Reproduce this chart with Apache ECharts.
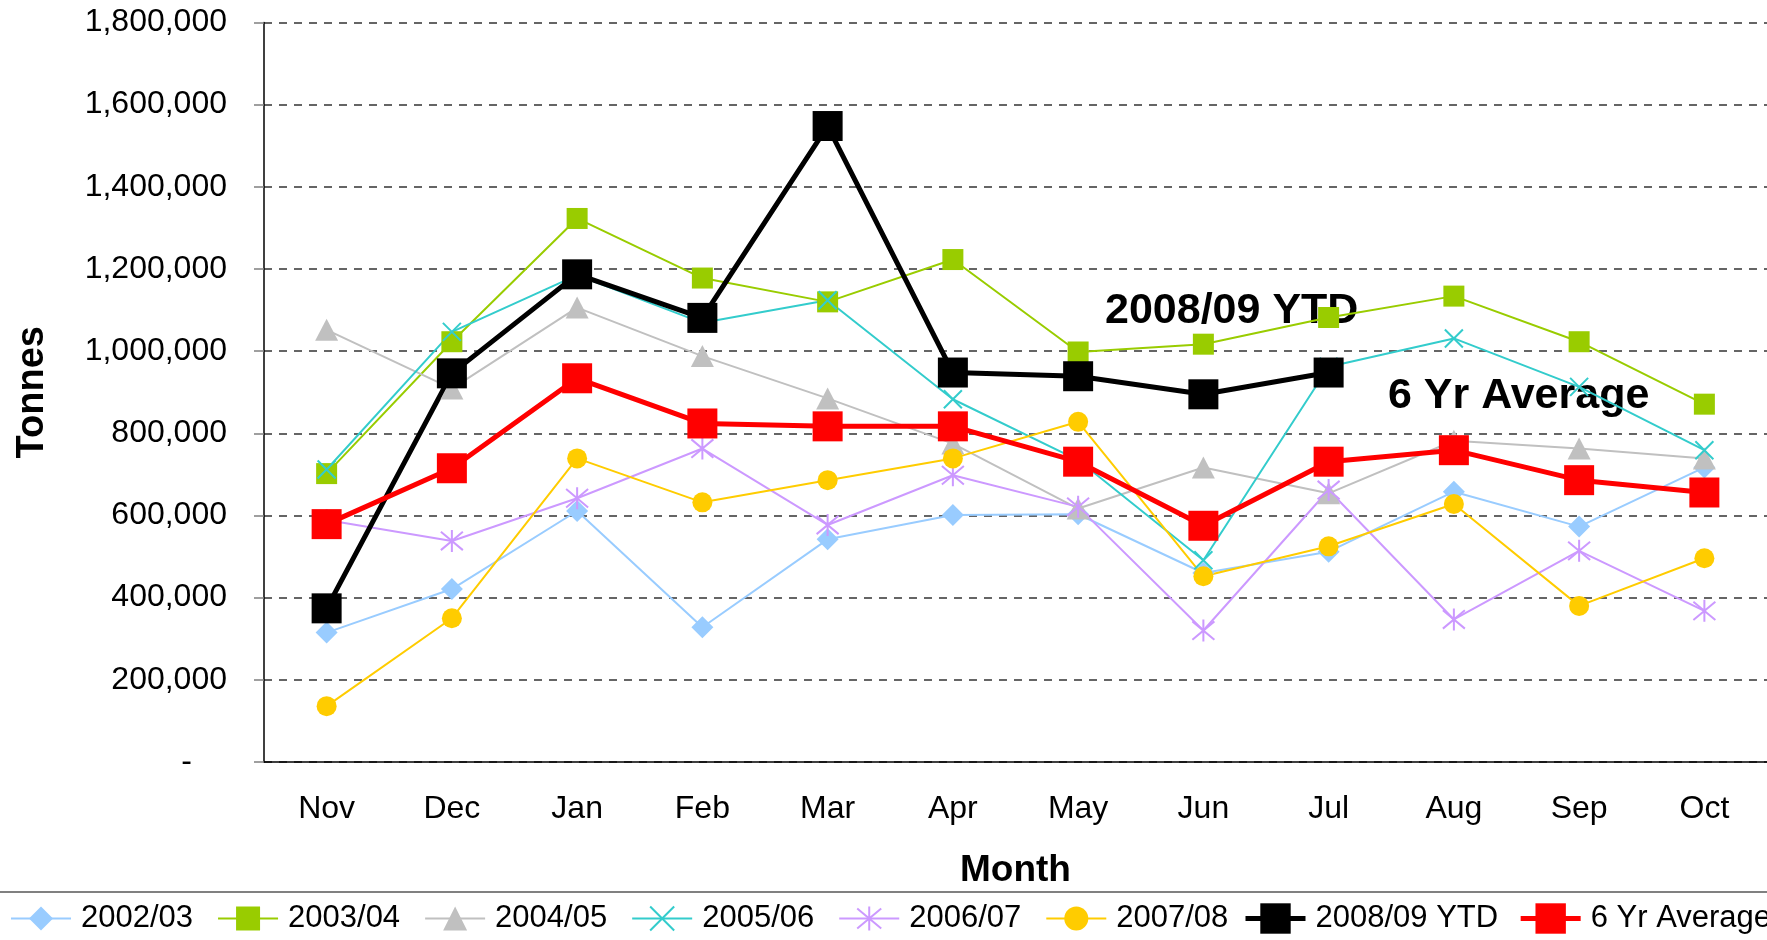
<!DOCTYPE html>
<html>
<head>
<meta charset="utf-8">
<script src="https://cdn.jsdelivr.net/npm/echarts@6/dist/echarts.min.js"></script>
<style>
html, body { margin: 0; padding: 0; background: #fff; }
#chart { width: 1767px; height: 940px; }
</style>
</head>
<body>
<div id="chart"></div>
<script>
const months = ['Nov', 'Dec', 'Jan', 'Feb', 'Mar', 'Apr', 'May', 'Jun', 'Jul', 'Aug', 'Sep', 'Oct']
const y0203 = [315000, 421000, 611000, 328000, 542000, 601000, 603000, 460000, 512000, 658000, 573000, 717000]
const y0304 = [702000, 1023000, 1323000, 1178000, 1120000, 1223000, 998000, 1017000, 1082000, 1134000, 1023000, 871000]
const y0405 = [1052000, 909000, 1106000, 988000, 885000, 775000, 617000, 717000, 654000, 782000, 763000, 739000]
const y0506 = [712000, 1047000, 1185000, 1069000, 1124000, 883000, 735000, 491000, 962000, 1031000, 913000, 759000]
const y0607 = [589000, 538000, 642000, 763000, 577000, 698000, 621000, 320000, 662000, 347000, 514000, 368000]
const y0708 = [136000, 350000, 739000, 632000, 686000, 739000, 828000, 452000, 525000, 628000, 380000, 496000]
const ytd0809 = [374000, 946000, 1187000, 1081000, 1548000, 948000, 939000, 895000, 948000]
const avg6yr = [579000, 715000, 934000, 824000, 817000, 817000, 731000, 575000, 731000, 759000, 686000, 656000]

const FONT = 'Liberation Sans, Arial, sans-serif'
const xMark = 'path://M0,0L10,10M10,0L0,10'
const starMark = 'path://M0,0L10,10M10,0L0,10M5,-1L5,11'

function thin(name, data, color, symbol, size, stroke) {
  return {
    name: name,
    type: 'line',
    data: data,
    symbol: symbol,
    symbolSize: size,
    showAllSymbol: true,
    lineStyle: { color: color, width: 2 },
    itemStyle: stroke ? { color: color, borderColor: color, borderWidth: 2 } : { color: color, borderWidth: 0 },
    emphasis: { disabled: true }
  }
}
function thick(name, data, color) {
  return {
    name: name,
    type: 'line',
    data: data,
    symbol: 'rect',
    symbolSize: 30,
    showAllSymbol: true,
    lineStyle: { color: color, width: 5 },
    itemStyle: { color: color, borderWidth: 0 },
    emphasis: { disabled: true }
  }
}

let myChart = echarts.init(document.getElementById('chart'))
myChart.setOption({
  animation: false,
  textStyle: { fontFamily: FONT },
  grid: { left: 264, top: 22.5, width: 1512, height: 739.5 },
  xAxis: {
    type: 'category',
    data: months,
    boundaryGap: true,
    name: 'Month',
    nameLocation: 'middle',
    nameGap: 90,
    nameTextStyle: { fontSize: 37, fontWeight: 'bold', color: '#000', fontFamily: FONT },
    axisLine: { lineStyle: { color: '#000', width: 1.5 } },
    axisTick: { alignWithLabel: false, length: 10, lineStyle: { color: '#000', width: 1.5 } },
    axisLabel: { fontSize: 32, color: '#000', margin: 31, fontFamily: FONT }
  },
  yAxis: {
    type: 'value',
    min: 0,
    max: 1800000,
    interval: 200000,
    name: 'Tonnes',
    nameLocation: 'middle',
    nameGap: 212,
    nameTextStyle: { fontSize: 38, fontWeight: 'bold', color: '#000', fontFamily: FONT },
    axisLine: { show: true, lineStyle: { color: '#000', width: 1.5 } },
    axisTick: { show: true, length: 10, lineStyle: { color: '#808080', width: 1.5 } },
    axisLabel: {
      fontSize: 32,
      color: '#000',
      margin: 37,
      fontFamily: FONT,
      formatter: v => v === 0 ? '{d|-}' : v.toLocaleString('en-US'),
      rich: { d: { fontSize: 32, color: '#000', padding: [0, 35, 0, 0], fontFamily: FONT } }
    },
    splitLine: { lineStyle: { color: '#333', width: 1.5, type: [8, 7] } }
  },
  legend: [
    {
      data: ['2002/03', '2003/04', '2004/05', '2005/06', '2006/07', '2007/08'],
      left: 10,
      top: 903,
      width: 1300,
      padding: 0,
      itemWidth: 60,
      itemHeight: 30,
      itemGap: 24,
      lineStyle: { width: 2 },
      textStyle: { fontSize: 31, color: '#000', padding: [0, 0, 0, 5], fontFamily: FONT }
    },
    {
      data: ['2008/09 YTD', '6 Yr Average'],
      left: 1243,
      top: 903,
      width: 700,
      padding: 0,
      itemWidth: 60,
      itemHeight: 38,
      itemGap: 20,
      lineStyle: { width: 5 },
      textStyle: { fontSize: 31, color: '#000', padding: [0, 0, 0, 5], fontFamily: FONT }
    }
  ],
  graphic: [
    {
      type: 'line',
      shape: { x1: 0, y1: 892, x2: 1767, y2: 892 },
      style: { stroke: '#808080', lineWidth: 2 },
      silent: true
    },
    {
      type: 'text',
      left: 1105,
      top: 290,
      style: { text: '2008/09 YTD', font: 'bold 43px ' + FONT, fill: '#000' }
    },
    {
      type: 'text',
      left: 1388,
      top: 375,
      style: { text: '6 Yr Average', font: 'bold 43px ' + FONT, fill: '#000' }
    }
  ],
  series: [
    thin('2002/03', y0203, '#99CCFF', 'diamond', 22, false),
    thin('2003/04', y0304, '#99CC00', 'rect', 21, false),
    thin('2004/05', y0405, '#C0C0C0', 'triangle', [23, 22], false),
    thin('2005/06', y0506, '#33CCCC', xMark, 18, true),
    thin('2006/07', y0607, '#CC99FF', starMark, 22, true),
    thin('2007/08', y0708, '#FFCC00', 'circle', 20, false),
    thick('2008/09 YTD', ytd0809, '#000000'),
    thick('6 Yr Average', avg6yr, '#FF0000')
  ]
})
</script>
</body>
</html>
